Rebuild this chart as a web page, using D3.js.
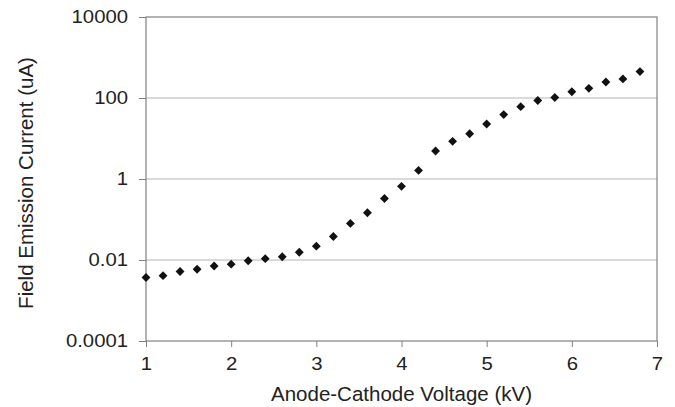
<!DOCTYPE html>
<html>
<head>
<meta charset="utf-8">
<script src="https://cdn.jsdelivr.net/npm/d3@7"></script>
<style>
  body { margin: 0; background: #fff; }
  text { font-family: "Liberation Sans", Arial, sans-serif; fill: #222; }
</style>
</head>
<body>
<svg id="chart" width="675" height="407"></svg>
<script>
// anode-cathode voltage (kV)
const voltage = [1.0, 1.2, 1.4, 1.6, 1.8, 2.0, 2.2, 2.4, 2.6, 2.8,
                 3.0, 3.2, 3.4, 3.6, 3.8, 4.0, 4.2, 4.4, 4.6, 4.8,
                 5.0, 5.2, 5.4, 5.6, 5.8, 6.0, 6.2, 6.4, 6.6, 6.8];
// field emission current (uA)
const current = [0.0037, 0.0041, 0.0052, 0.0059, 0.0071, 0.0079, 0.0096, 0.0108, 0.012, 0.0155,
                 0.022, 0.038, 0.080, 0.147, 0.33, 0.66, 1.63, 4.9, 8.5, 13.1,
                 22.8, 39, 61, 87, 103, 143, 173, 248, 296, 449];
const xTicks = [1, 2, 3, 4, 5, 6, 7];
const yTicks = [0.0001, 0.01, 1, 100, 10000];
const yTickLabels = ["0.0001", "0.01", "1", "100", "10000"];

const margin = { top: 17, right: 18, bottom: 66, left: 146 };
const width = 675 - margin.left - margin.right;
const height = 407 - margin.top - margin.bottom;

const svg = d3.select('#chart');
const g = svg.append('g').attr('transform', `translate(${margin.left},${margin.top})`);

const x = d3.scaleLinear().domain([1, 7]).range([0, width]);
const y = d3.scaleLog().domain([0.0001, 10000]).range([height, 0]);

// gridlines
g.selectAll('.grid')
  .data(yTicks.slice(1, -1))
  .enter().append('line')
    .attr('x1', 0).attr('x2', width)
    .attr('y1', d => y(d)).attr('y2', d => y(d))
    .style('stroke', '#b4b4b4')
    .style('stroke-width', '1px');

// frame
g.append('rect')
  .attr('width', width).attr('height', height)
  .style('fill', 'none')
  .style('stroke', '#808080')
  .style('stroke-width', '1.2px');

const yAxis = g.append('g')
  .call(d3.axisLeft(y).tickValues(yTicks).tickFormat((d, i) => yTickLabels[i]).tickSize(7).tickPadding(11));
const xAxis = g.append('g')
  .attr('transform', `translate(0,${height})`)
  .call(d3.axisBottom(x).tickValues(xTicks).tickFormat(d3.format('d')).tickSize(6).tickPadding(11));

[yAxis, xAxis].forEach(a => {
  a.select('.domain').remove();
  a.selectAll('line').style('stroke', '#808080').style('stroke-width', '1px');
  a.selectAll('text')
    .style('font-size', '17.5px').style('fill', '#222')
    .style('font-family', '"Liberation Sans", Arial, sans-serif')
    .each(function() {
      // reference glyphs are a bit wider than Liberation Sans
      const w = this.getComputedTextLength();
      d3.select(this).attr('textLength', w * 1.16).attr('lengthAdjust', 'spacingAndGlyphs');
    });
});

// diamond markers
const diamond = d3.symbol().type(d3.symbolDiamond2).size(50);
g.selectAll('.pt')
  .data(voltage.map((v, i) => [v, current[i]]))
  .enter().append('path')
    .attr('class', 'pt')
    .attr('d', diamond)
    .attr('transform', d => `translate(${x(d[0])},${y(d[1])})`)
    .style('fill', '#111');

// axis titles
svg.append('text')
  .attr('x', margin.left + width / 2)
  .attr('y', 401)
  .attr('text-anchor', 'middle')
  .style('font-size', '20.5px')
  .text('Anode-Cathode Voltage (kV)');

svg.append('text')
  .attr('transform', `translate(33,183) rotate(-90)`)
  .attr('text-anchor', 'middle')
  .style('font-size', '20.5px')
  .text('Field Emission Current (uA)');
</script>
</body>
</html>
